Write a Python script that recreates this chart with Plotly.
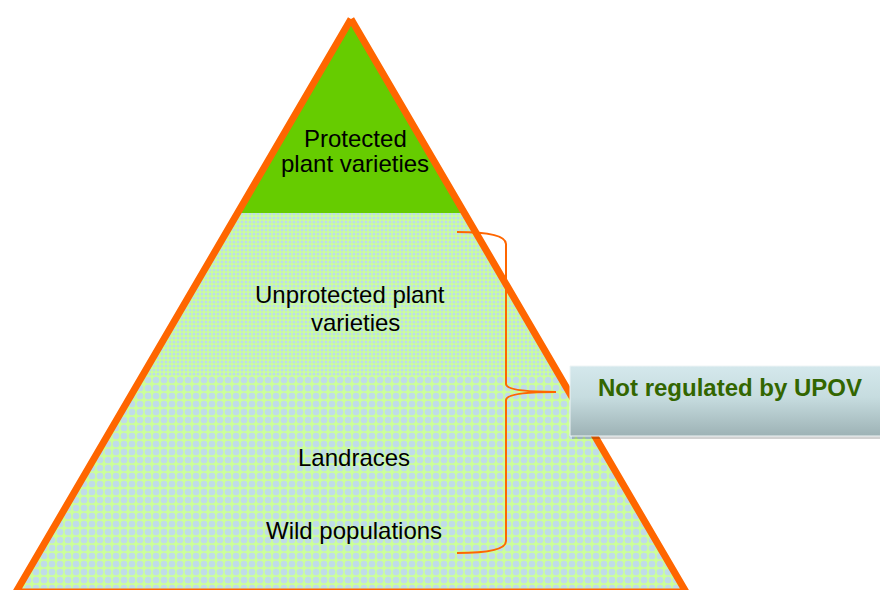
import plotly.graph_objects as go

# ---- data ----
label_lines = ["Protected", "plant varieties", "Unprotected plant", "varieties", "Landraces", "Wild populations"]
label_x = [355, 355, 350, 355, 354, 354]
label_y = [138, 163, 294, 322, 457, 530]
apex = (351, 19)
base_left_x, base_right_x, base_y = 16, 686, 592
tier_bounds_y = [19, 213, 376, 592]   # top, dark/light boundary, fine/coarse boundary, base
brace = dict(x_end=457, x_spine=506, x_tip=556, y_top=232, y_mid=392, y_bot=553)
box = dict(x0=570, x1=884, y0=366, y1=436)
box_text = "Not regulated by UPOV"

ORANGE = "#ff6600"

def edge_x(y):
    t = (y - apex[1]) / (base_y - apex[1])
    xl = apex[0] + (base_left_x - apex[0]) * t
    xr = apex[0] + (base_right_x - apex[0]) * t
    return xl, xr

def band(y0, y1):
    l0, r0 = edge_x(y0)
    l1, r1 = edge_x(y1)
    return [l0, r0, r1, l1, l0], [y0, y0, y1, y1, y0]

fig = go.Figure()

xs, ys = band(tier_bounds_y[0], tier_bounds_y[1])
fig.add_trace(go.Scatter(x=xs, y=ys, fill="toself", fillcolor="#66cc00",
                         line=dict(width=0), mode="lines", hoverinfo="skip"))
xs, ys = band(tier_bounds_y[1], tier_bounds_y[2])
fig.add_trace(go.Scatter(x=xs, y=ys, fill="toself", mode="lines", line=dict(width=0),
                         fillpattern=dict(shape=".", bgcolor="#ccff99", fgcolor="#bcdcea",
                                          size=4, solidity=0.45, fillmode="replace"),
                         hoverinfo="skip"))
xs, ys = band(tier_bounds_y[2], tier_bounds_y[3])
fig.add_trace(go.Scatter(x=xs, y=ys, fill="toself", mode="lines", line=dict(width=0),
                         fillpattern=dict(shape=".", bgcolor="#ccff99", fgcolor="#c0dce8",
                                          size=8, solidity=0.55, fillmode="replace"),
                         hoverinfo="skip"))
fig.add_trace(go.Scatter(x=[apex[0], base_right_x, base_left_x, apex[0]],
                         y=[apex[1], base_y, base_y, apex[1]], mode="lines",
                         line=dict(color=ORANGE, width=7), hoverinfo="skip"))

# box shadow
fig.add_trace(go.Scatter(x=[box["x0"] + 2, box["x1"] + 2, box["x1"] + 2, box["x0"] + 2, box["x0"] + 2],
                         y=[box["y0"] + 3, box["y0"] + 3, box["y1"] + 3, box["y1"] + 3, box["y0"] + 3],
                         fill="toself", mode="lines", line=dict(width=0),
                         fillcolor="rgba(0,0,0,0.18)", hoverinfo="skip"))
# gradient box
fig.add_trace(go.Scatter(x=[box["x0"], box["x1"], box["x1"], box["x0"], box["x0"]],
                         y=[box["y0"], box["y0"], box["y1"], box["y1"], box["y0"]],
                         fill="toself", mode="lines", line=dict(color="#eef4f5", width=1),
                         fillgradient=dict(type="vertical",
                                           colorscale=[[0, "#9db2b5"], [0.55, "#c6dcdf"], [1, "#d4e8ec"]]),
                         hoverinfo="skip"))

b = brace
r = 8
path = (f"M {b['x_end']},{b['y_top']} "
        f"Q {b['x_spine']},{b['y_top']} {b['x_spine']},{b['y_top'] + r + 4} "
        f"L {b['x_spine']},{b['y_mid'] - r} "
        f"Q {b['x_spine']},{b['y_mid']} {b['x_tip']},{b['y_mid']} "
        f"Q {b['x_spine']},{b['y_mid']} {b['x_spine']},{b['y_mid'] + r} "
        f"L {b['x_spine']},{b['y_bot'] - r - 4} "
        f"Q {b['x_spine']},{b['y_bot']} {b['x_end']},{b['y_bot']}")
fig.add_shape(type="path", path=path, line=dict(color=ORANGE, width=2), layer="above")

for t, x, y in zip(label_lines, label_x, label_y):
    fig.add_annotation(x=x, y=y, text=t, showarrow=False,
                       font=dict(family="Liberation Sans, Arial", size=24, color="#000000"))

fig.add_annotation(x=730, y=387, text=f"<b>{box_text}</b>", showarrow=False,
                   font=dict(family="Liberation Sans, Arial", size=24, color="#336600"))

fig.update_layout(width=880, height=590, margin=dict(l=0, r=0, t=0, b=0),
                  paper_bgcolor="white", plot_bgcolor="white", showlegend=False,
                  xaxis=dict(range=[0, 880], visible=False, fixedrange=True),
                  yaxis=dict(range=[590, 0], visible=False, fixedrange=True))

fig.write_html("out.html", config={"displayModeBar": False},
               post_script="document.body.style.margin='0';document.body.style.overflow='hidden';")
